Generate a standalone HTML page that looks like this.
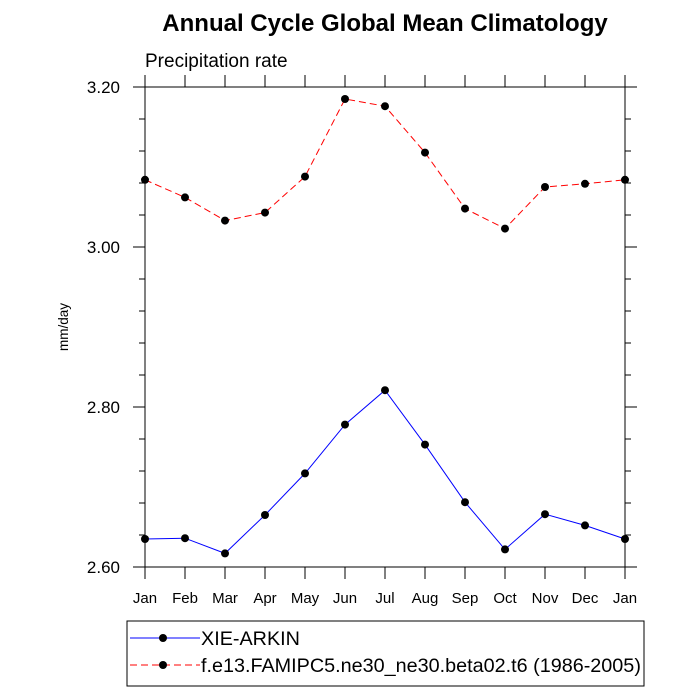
<!DOCTYPE html>
<html><head><meta charset="utf-8"><style>
body{margin:0;background:#fff;}
svg{display:block;font-family:"Liberation Sans",sans-serif;}
</style></head><body>
<svg id="chart" width="700" height="700">
<text x="385" y="31" text-anchor="middle" font-size="24" font-weight="bold">Annual Cycle Global Mean Climatology</text>
<text x="145" y="67" font-size="19">Precipitation rate</text>
<text transform="translate(68,327) rotate(-90)" text-anchor="middle" font-size="13.5">mm/day</text>
<rect x="145" y="87" width="480" height="480" fill="none" stroke="#000" stroke-width="1"/>
<g id="axes"></g>
<g id="series"></g>
<g>
<rect x="127" y="621" width="517" height="65" fill="none" stroke="#000"/>
<g>
<line x1="130" y1="638" x2="200" y2="638" stroke="#0000ff" stroke-width="1"/>
<circle cx="163" cy="638" r="4" fill="#000"/>
<text x="201" y="645" font-size="19.8">XIE-ARKIN</text>
</g>
<g>
<line x1="130" y1="665" x2="200" y2="665" stroke="#ff0000" stroke-width="1" stroke-dasharray="7,4"/>
<circle cx="163" cy="665" r="4" fill="#000"/>
<text x="201" y="672" font-size="19.8">f.e13.FAMIPC5.ne30_ne30.beta02.t6 (1986-2005)</text>
</g>
</g>
</svg>
<script>
const months=["Jan","Feb","Mar","Apr","May","Jun","Jul","Aug","Sep","Oct","Nov","Dec","Jan"];
const obsValues=[2.635,2.636,2.617,2.665,2.717,2.778,2.821,2.753,2.681,2.622,2.666,2.652,2.635];
const modelValues=[3.084,3.062,3.033,3.043,3.088,3.185,3.176,3.118,3.048,3.023,3.075,3.079,3.084];
const yTickLabels=["2.60","2.80","3.00","3.20"];
const NS="http://www.w3.org/2000/svg";
const X0=145,X1=625,Y0=567,Y1=87,YMIN=2.6,YMAX=3.2;
const xs=i=>X0+(X1-X0)*i/(months.length-1);
const ys=v=>Y0-(v-YMIN)/(YMAX-YMIN)*(Y0-Y1);
function mk(t,a,p){const e=document.createElementNS(NS,t);for(const k in a)e.setAttribute(k,a[k]);p.appendChild(e);return e;}
const ax=document.getElementById("axes");
months.forEach((m,i)=>{
  const x=xs(i);
  const t1=mk("line",{x1:x,y1:Y0,x2:x,y2:Y0+12,stroke:"#000"},ax);
  
  
  const t2=mk("line",{x1:x,y1:Y1,x2:x,y2:Y1-12,stroke:"#000"},ax);
  
  
  const l=mk("text",{x:x,y:603,"text-anchor":"middle","font-size":"15"},ax);
  l.textContent=m;
  
  
});
for(let k=0;k<=15;k++){
  const v=YMIN+k*0.04,y=ys(v),major=k%5===0,len=major?12:6;
  const a=mk("line",{x1:X0,y1:y,x2:X0-len,y2:y,stroke:"#000"},ax);
  
  
  const b=mk("line",{x1:X1,y1:y,x2:X1+len,y2:y,stroke:"#000"},ax);
  
  
}
yTickLabels.forEach(s=>{
  const l=mk("text",{x:120,y:ys(parseFloat(s))+6,"text-anchor":"end","font-size":"17"},ax);
  l.textContent=s;
  
  
});
const sg=document.getElementById("series");
function drawSeries(vals,color,dash,name){
  const g=mk("g",{},sg);
  
  
  const pl=mk("polyline",{points:vals.map((v,i)=>xs(i)+","+ys(v)).join(" "),fill:"none",stroke:color,"stroke-width":"1","stroke-dasharray":dash},g);
  
  
  vals.forEach((v,i)=>{
    const c=mk("circle",{cx:xs(i),cy:ys(v),r:4,fill:"#000"},g);
    
    
  });
}
drawSeries(modelValues,"#ff0000","7,4","model-series");
drawSeries(obsValues,"#0000ff","none","xie-arkin-series");
</script>
</body></html>
